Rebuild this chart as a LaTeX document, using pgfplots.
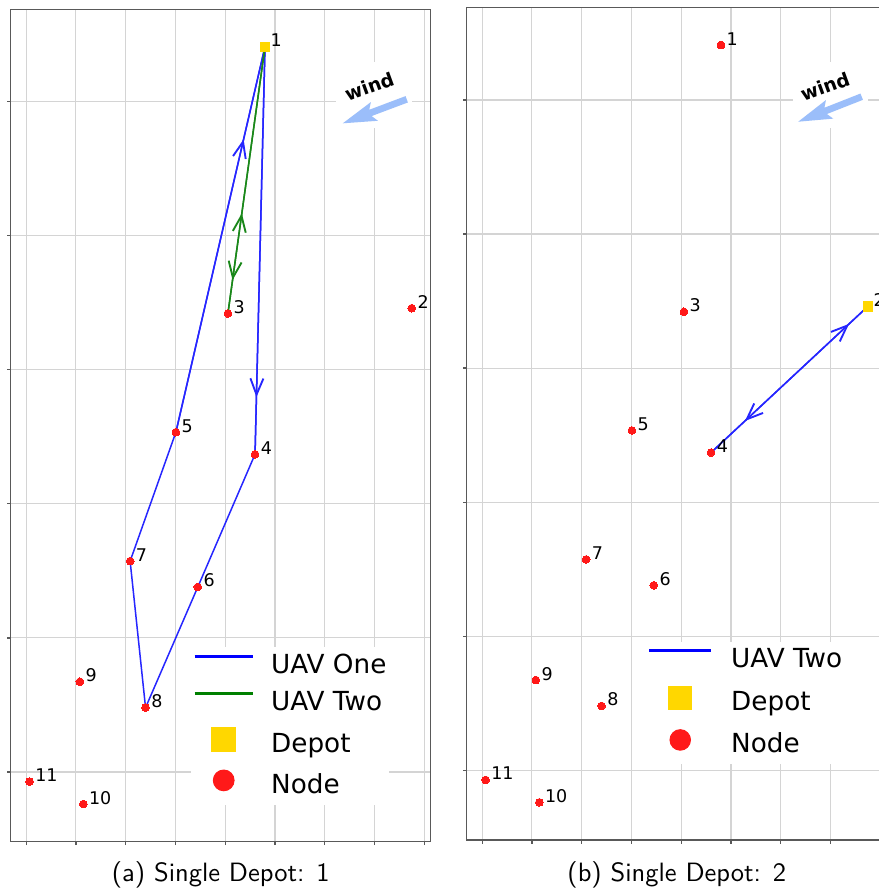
\documentclass[border=0pt]{standalone}
\usepackage{fontspec}
\usepackage{pgfplots}
\usepackage{pgfplotstable}
\pgfplotsset{compat=1.18}
\usetikzlibrary{arrows.meta,decorations.markings}
\newfontfamily\dejavu{DejaVu Sans}
\definecolor{gold}{HTML}{FFD700}
\definecolor{routeblue}{rgb}{0.15,0.15,1}
\definecolor{routegreen}{rgb}{0.1,0.53,0.1}
\definecolor{windblue}{RGB}{155,190,250}
\definecolor{nodered}{RGB}{255,25,25}

% Panel (a): depot at node 1
\pgfplotstableread{
x y label
7.75 3.46 2
4.055 3.42 3
4.60 2.37 4
3.01 2.535 5
3.45 1.38 6
2.09 1.573 7
2.40 0.48 8
1.08 0.673 9
1.15 -0.239 10
0.07 -0.072 11
}\nodesA
\pgfplotstableread{
x y label
4.80 5.41 1
}\depotA
% Panel (b): depot at node 2
\pgfplotstableread{
x y label
4.80 5.41 1
4.055 3.42 3
4.60 2.37 4
3.01 2.535 5
3.45 1.38 6
2.09 1.573 7
2.40 0.48 8
1.08 0.673 9
1.15 -0.239 10
0.07 -0.072 11
}\nodesB
\pgfplotstableread{
x y label
7.75 3.46 2
}\depotB

\pgfplotsset{
  panel/.style={
    scale only axis, width=168pt, height=333pt,
    xmin=-0.31, xmax=8.13, ymin=-0.52, ymax=5.69,
    xtick={0,1,...,8}, ytick={0,1,...,5},
    xticklabels={}, yticklabels={},
    xtick pos=left, ytick pos=left, tick align=outside,
    major tick length=1.4pt,
    grid=major, major grid style={draw=black!17, line width=0.45pt},
    axis line style={draw=black!65, line width=0.5pt},
    tick style={draw=black!65, line width=0.5pt},
    clip=false, anchor=south west,
    legend cell align=left,
  },
  nodelabels/.style={nodes near coords, point meta=explicit symbolic,
    nodes near coords style={anchor=base west, inner sep=0pt, xshift=2.3pt,
      font=\dejavu\fontsize{7}{8}\selectfont, text=black}},
  nodestyle/.style={only marks, color=nodered, mark=*, mark size=1.55pt,
    mark options={draw=nodered, fill=nodered, line width=0pt}},
  depotstyle/.style={only marks, color=gold, mark=square*, mark size=1.87pt,
    mark options={draw=gold, fill=gold, line width=0pt}},
  arrowat/.style={postaction={decorate}, decoration={markings,
    mark=at position #1 with {\arrow{Straight Barb[length=6.5pt,width=5.2pt,line width=0.75pt]}}}},
}

\begin{document}
\begin{tikzpicture}
% ---------------- Panel (a) ----------------
\begin{axis}[panel, at={(4.28pt,19.32pt)},
  legend style={at={(0.4274,0.2343)}, anchor=north west, draw=none, fill=white,
    inner xsep=1pt, inner ysep=2.4pt, row sep=4.3pt,
    font=\dejavu\fontsize{10.5}{12}\selectfont,
    nodes={inner sep=0pt, text height=8pt, text depth=2.5pt},
    /tikz/every odd column/.append style={column sep=6.8pt}},
]
\addlegendimage{legend image code/.code={\draw[blue, line width=1.2pt] (0pt,4pt) -- (23.2pt,4pt);}}
\addlegendentry{UAV One}
\addlegendimage{legend image code/.code={\draw[green!50!black, line width=1.2pt] (0pt,4pt) -- (23.2pt,4pt);}}
\addlegendentry{UAV Two}
\addlegendimage{legend image code/.code={\fill[gold] (6.8pt,-2.4pt) rectangle (16.4pt,7.2pt);}}
\addlegendentry{Depot}
\addlegendimage{legend image code/.code={\fill[nodered] (11.6pt,2.3pt) circle (4.15pt);}}
\addlegendentry{Node}

% UAV One route 1-4-6-8-7-5-1
\addplot[routeblue, line width=0.6pt, forget plot] coordinates {
  (4.80,5.41) (4.60,2.37) (3.45,1.38) (2.40,0.48) (2.09,1.573) (3.01,2.535) (4.80,5.41)};
\addplot[routeblue, line width=0.6pt, arrowat=0.86, forget plot] coordinates {(4.80,5.41) (4.60,2.37)};
\addplot[routeblue, line width=0.6pt, arrowat=0.76, forget plot] coordinates {(3.01,2.535) (4.80,5.41)};
% UAV Two route 1-3-1
\addplot[routegreen, line width=0.6pt, arrowat=0.875, forget plot] coordinates {(4.80,5.41) (4.055,3.42)};
\addplot[routegreen, line width=0.6pt, arrowat=0.376, forget plot] coordinates {(4.055,3.42) (4.80,5.41)};

\addplot[nodestyle, nodelabels, forget plot] table[x=x, y=y, meta=label] {\nodesA};
\addplot[depotstyle, nodelabels, forget plot] table[x=x, y=y, meta=label] {\depotA};
\end{axis}

% ---------------- Panel (b) ----------------
\begin{axis}[panel, at={(186.68pt,20pt)},
  legend style={at={(0.412,0.2382)}, anchor=north west, draw=none, fill=white,
    inner xsep=3pt, inner ysep=2pt, row sep=4.9pt,
    font=\dejavu\fontsize{10.5}{12}\selectfont,
    nodes={inner sep=0pt, text height=8pt, text depth=2.5pt},
    /tikz/every odd column/.append style={column sep=7.4pt}},
]
\addlegendimage{legend image code/.code={\draw[blue, line width=1.2pt] (0pt,4pt) -- (24.8pt,4pt);}}
\addlegendentry{UAV Two}
\addlegendimage{legend image code/.code={\fill[gold] (7.75pt,-2.25pt) rectangle (17.05pt,7.05pt);}}
\addlegendentry{Depot}
\addlegendimage{legend image code/.code={\fill[nodered] (12.4pt,2.3pt) circle (4.1pt);}}
\addlegendentry{Node}

% UAV Two route 2-4-2
\addplot[routeblue, line width=0.6pt, arrowat=0.785, forget plot] coordinates {(7.75,3.46) (4.60,2.37)};
\addplot[routeblue, line width=0.6pt, arrowat=0.882, forget plot] coordinates {(4.60,2.37) (7.75,3.46)};

\addplot[nodestyle, nodelabels, forget plot] table[x=x, y=y, meta=label] {\nodesB};
\addplot[depotstyle, nodelabels, forget plot] table[x=x, y=y, meta=label] {\depotB};
\end{axis}

% ---------------- wind annotations ----------------
\fill[white] (134.4pt,304.8pt) rectangle (164.8pt,331.2pt);
\begin{scope}[shift={(162.68pt,316.28pt)}, rotate=200.6]
  \fill[windblue] (0pt,-1.35pt) -- (15.5pt,-1.35pt) -- (13.8pt,-4pt) -- (27.3pt,0pt)
    -- (13.8pt,4pt) -- (15.5pt,1.35pt) -- (0pt,1.35pt) -- cycle;
\end{scope}
\node[rotate=20, inner sep=0pt, font=\dejavu\bfseries\fontsize{7.5}{9}\selectfont] at (147.72pt,321.32pt) {wind};

\fill[white] (317.2pt,304.8pt) rectangle (347.2pt,331.2pt);
\begin{scope}[shift={(344.68pt,317.32pt)}, rotate=201.5]
  \fill[windblue] (0pt,-1.35pt) -- (15.5pt,-1.35pt) -- (13.8pt,-4pt) -- (27.3pt,0pt)
    -- (13.8pt,4pt) -- (15.5pt,1.35pt) -- (0pt,1.35pt) -- cycle;
\end{scope}
\node[rotate=20, inner sep=0pt, font=\dejavu\bfseries\fontsize{7.5}{9}\selectfont] at (330pt,321.32pt) {wind};

% ---------------- captions ----------------
\node[anchor=base, inner sep=0pt, font=\sffamily\fontsize{10.6}{12.5}\selectfont] at (88.28pt,3.32pt) {(a) Single Depot: 1};
\node[anchor=base, inner sep=0pt, font=\sffamily\fontsize{10.6}{12.5}\selectfont] at (270.7pt,3.32pt) {(b) Single Depot: 2};

\pgfresetboundingbox
\useasboundingbox (0pt,0pt) rectangle (351.2pt,356pt);
\end{tikzpicture}
\end{document}
